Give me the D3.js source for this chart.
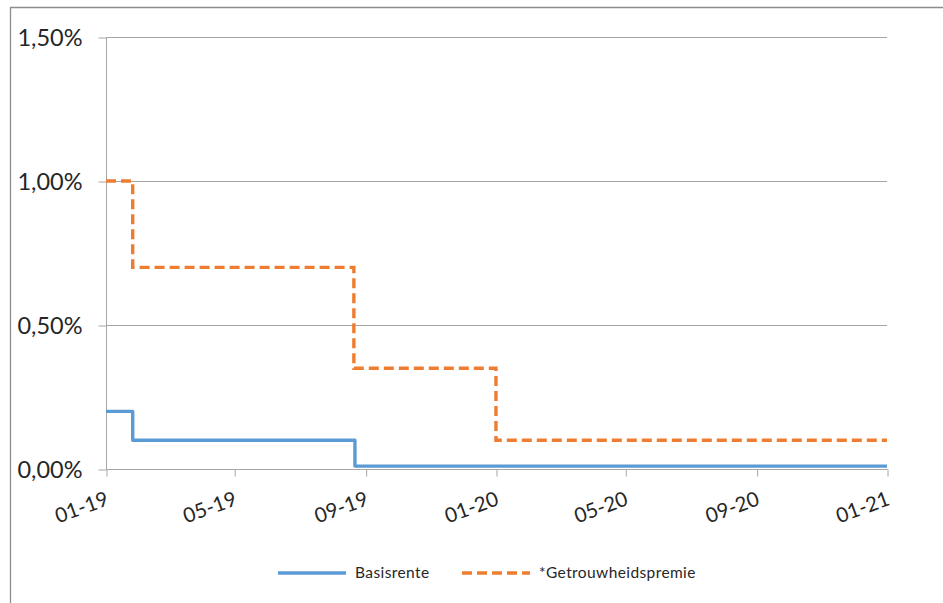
<!DOCTYPE html>
<html>
<head>
<meta charset="utf-8">
<script src="https://cdn.jsdelivr.net/npm/d3@7"></script>
<style>
  html, body { margin: 0; padding: 0; background: #fff; }
  svg { display: block; }
  text { font-family: Lato, "Open Sans", sans-serif; fill: #262626; }
</style>
</head>
<body>
<svg id="chart" width="943" height="603"></svg>
<script>
// ---- data ----
const seriesNames = ["Basisrente", "*Getrouwheidspremie"];
// change points (step after)
const basisDates  = ["2019-01-01", "2019-01-26", "2019-08-22", "2021-01-01"];
const basisValues = [0.20, 0.10, 0.01, 0.01];
const premieDates  = ["2019-01-01", "2019-01-26", "2019-08-21", "2020-01-01", "2021-01-01"];
const premieValues = [1.00, 0.70, 0.35, 0.10, 0.10];
const yTicks = [0, 0.5, 1.0, 1.5];
const xTickLabels = ["2019-01-01", "2019-05-01", "2019-09-01", "2020-01-01", "2020-05-01", "2020-09-01", "2021-01-01"];
const colors = ["#5B9BD5", "#ED7D31"];

// ---- setup ----
const svg = d3.select("#chart");
const parse = d3.timeParse("%Y-%m-%d");
const pLeft = 106, pRight = 887, pTop = 37, pBottom = 469;

const x = d3.scaleTime().domain([parse("2019-01-01"), parse("2021-01-01")]).range([pLeft, pRight]);
const y = d3.scaleLinear().domain([0, 1.5]).range([pBottom, pTop]);

const nl = d3.formatLocale({decimal: ",", thousands: ".", grouping: [3], currency: ["€", ""]});
const pct = v => nl.format(".2f")(v) + "%";

// outer border
svg.append("line").attr("x1", 10.5).attr("x2", 10.5).attr("y1", 7.5).attr("y2", 603)
  .attr("stroke", "#8c8c8c").attr("stroke-width", 1.3);
svg.append("line").attr("x1", 10).attr("x2", 943).attr("y1", 7.5).attr("y2", 7.5)
  .attr("stroke", "#8c8c8c").attr("stroke-width", 1.3);

// gridlines
svg.append("g").selectAll("line").data(yTicks.filter(d => d > 0)).join("line")
  .attr("x1", pLeft).attr("x2", pRight)
  .attr("y1", d => Math.round(y(d)) + 0.5).attr("y2", d => Math.round(y(d)) + 0.5)
  .attr("stroke", "#a6a6a6").attr("stroke-width", 1);

// y axis
const yAxis = svg.append("g").attr("transform", `translate(${pLeft + 0.5},0.5)`)
  .call(d3.axisLeft(y).tickValues(yTicks).tickFormat(pct).tickSize(8).tickPadding(16));
yAxis.select(".domain").attr("stroke", "#a6a6a6").attr("d", `M0,${pTop}V${pBottom}`);
yAxis.selectAll(".tick line").attr("stroke", "#a6a6a6");
yAxis.selectAll(".tick text").style("font-size", "23.5px").style("font-family", "Lato, 'Open Sans', sans-serif").attr("fill", "#262626");

// x axis
const xAxis = svg.append("g").attr("transform", `translate(0.5,${pBottom + 0.5})`)
  .call(d3.axisBottom(x).tickValues(xTickLabels.map(parse)).tickFormat(d3.timeFormat("%m-%y")).tickSize(7));
xAxis.select(".domain").attr("stroke", "#a6a6a6").attr("d", `M${pLeft},0H${pRight}`);
xAxis.selectAll(".tick line").attr("stroke", "#a6a6a6");
xAxis.selectAll(".tick text")
  .style("font-size", "20.5px").style("font-family", "Lato, 'Open Sans', sans-serif").attr("fill", "#262626")
  .attr("text-anchor", "end").attr("dy", null).attr("y", null)
  .attr("transform", "translate(3,35) rotate(-20)");

// lines
const line = d3.line().x(d => x(d.date)).y(d => y(d.value)).curve(d3.curveStepAfter);
const basis = basisDates.map((d, i) => ({date: parse(d), value: basisValues[i]}));
const premie = premieDates.map((d, i) => ({date: parse(d), value: premieValues[i]}));

svg.append("path").datum(basis).attr("d", line)
  .attr("fill", "none").attr("stroke", colors[0]).attr("stroke-width", 3.4).attr("stroke-linejoin", "round");
svg.append("path").datum(premie).attr("d", line)
  .attr("fill", "none").attr("stroke", colors[1]).attr("stroke-width", 3.4)
  .attr("stroke-dasharray", "10,5");

// legend
const legendItems = [
  {name: seriesNames[0], color: colors[0], dash: null, x0: 278},
  {name: seriesNames[1], color: colors[1], dash: "10,5", x0: 462}
];
const lg = svg.append("g");
legendItems.forEach(it => {
  lg.append("line").attr("x1", it.x0).attr("x2", it.x0 + 68).attr("y1", 573).attr("y2", 573)
    .attr("stroke", it.color).attr("stroke-width", 3.4).attr("stroke-dasharray", it.dash);
  lg.append("text").attr("x", it.x0 + 77).attr("y", 578).text(it.name)
    .style("font-size", "15.5px").style("letter-spacing", "0.4px");
});
</script>
</body>
</html>
